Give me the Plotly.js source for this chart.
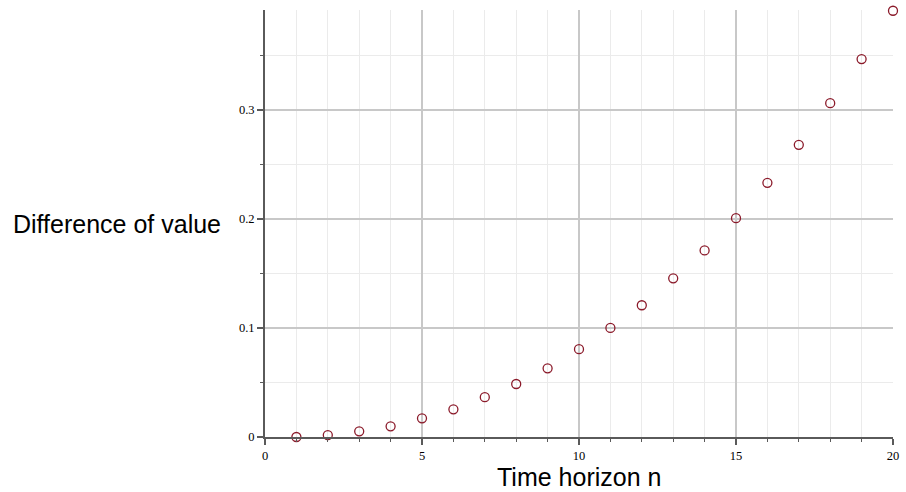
<!DOCTYPE html>
<html>
<head>
<meta charset="utf-8">
<script src="https://cdn.plot.ly/plotly-3.0.1.min.js"></script>
<style>html,body{margin:0;padding:0;background:#fff;}#chart{width:906px;height:492px;}</style>
</head>
<body>
<div id="chart"></div>
<script>
const horizon = [1,2,3,4,5,6,7,8,9,10,11,12,13,14,15,16,17,18,19,20];
const diffValue = [0.0000,0.0018,0.0052,0.0098,0.0171,0.0254,0.0365,0.0486,0.0630,0.0805,
                   0.1000,0.1208,0.1455,0.1711,0.2006,0.2330,0.2679,0.3061,0.3465,0.3908];
const xTickVals = [0,5,10,15,20];
const yTickVals = [0,0.1,0.2,0.3];
const yTickText = ['0','0.1','0.2','0.3'];
const xTitle = 'Time horizon n';
const yTitle = 'Difference of value';

const trace = {
  x: horizon, y: diffValue, type: 'scatter', mode: 'markers',
  marker: {symbol: 'circle-open', size: 9, color: '#8b1a2a', line: {width: 1.3, color: '#8b1a2a'}},
  cliponaxis: false, hoverinfo: 'skip'
};

const layout = {
  width: 906, height: 492,
  margin: {l: 265, r: 13, t: 10, b: 55, pad: 0},
  paper_bgcolor: '#fff', plot_bgcolor: '#fff',
  showlegend: false,
  font: {family: 'Liberation Serif, Times New Roman, serif', size: 12, color: '#000'},
  xaxis: {
    range: [0, 20], tickvals: xTickVals, ticktext: xTickVals.map(String),
    showline: true, linecolor: '#5a5a5a', linewidth: 2,
    ticks: 'outside', ticklen: 6, tickcolor: '#5a5a5a', tickwidth: 1.5,
    showgrid: true, gridcolor: '#c8c8c8', gridwidth: 1.5,
    zeroline: false,
    tickfont: {family: 'Liberation Serif, serif', size: 12.5},
    minor: {dtick: 1, tick0: 0, showgrid: true, gridcolor: '#ebebeb', gridwidth: 1, ticks: 'outside', ticklen: 3, tickcolor: '#5a5a5a', tickwidth: 1.2}
  },
  yaxis: {
    range: [0, 0.3915], tickvals: yTickVals, ticktext: yTickText,
    showline: true, linecolor: '#5a5a5a', linewidth: 2,
    ticks: 'outside', ticklen: 6, tickcolor: '#5a5a5a', tickwidth: 1.5,
    showgrid: true, gridcolor: '#c8c8c8', gridwidth: 1.5,
    zeroline: false,
    tickfont: {family: 'Liberation Serif, serif', size: 12.5},
    minor: {dtick: 0.05, tick0: 0, showgrid: true, gridcolor: '#ebebeb', gridwidth: 1, ticks: 'outside', ticklen: 3, tickcolor: '#5a5a5a', tickwidth: 1.2}
  },
  annotations: [{
    text: yTitle, xref: 'paper', yref: 'paper', x: -0.067, y: 0.50,
    xanchor: 'right', yanchor: 'middle', showarrow: false,
    font: {family: 'Liberation Sans, Arial, sans-serif', size: 25, color: '#000'}
  }, {
    text: xTitle, xref: 'paper', yref: 'paper', x: 0.5, y: -0.094,
    xanchor: 'center', yanchor: 'middle', showarrow: false, borderpad: 0,
    font: {family: 'Liberation Sans, Arial, sans-serif', size: 25, color: '#000'}
  }]
};

Plotly.newPlot('chart', [trace], layout, {displayModeBar: false, staticPlot: true});
</script>
</body>
</html>
